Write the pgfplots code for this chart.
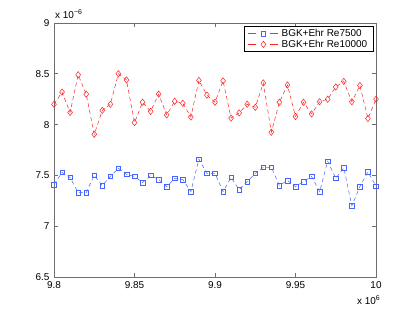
\documentclass[border=0pt]{standalone}
\usepackage{pgfplots}
\pgfplotsset{compat=1.18}
\usepackage{fontspec}
\setmainfont{Liberation Sans}
\definecolor{mblue}{RGB}{70,100,255}
\definecolor{mred}{RGB}{255,30,30}
\definecolor{axgray}{RGB}{110,110,110}

\pgfplotstableread{
x y
9.800 8.20
9.805 8.32
9.810 8.12
9.815 8.49
9.820 8.30
9.825 7.905
9.830 8.14
9.835 8.20
9.840 8.50
9.845 8.44
9.850 8.02
9.855 8.22
9.860 8.13
9.865 8.30
9.870 8.095
9.875 8.23
9.880 8.21
9.885 8.075
9.890 8.435
9.895 8.29
9.900 8.22
9.905 8.43
9.910 8.065
9.915 8.115
9.920 8.20
9.925 8.17
9.930 8.41
9.935 7.925
9.940 8.22
9.945 8.39
9.950 8.08
9.955 8.22
9.960 8.105
9.965 8.225
9.970 8.25
9.975 8.37
9.980 8.425
9.985 8.225
9.990 8.385
9.995 8.06
10.000 8.25
}\redtab

\pgfplotstableread{
x y
9.800 7.41
9.805 7.53
9.810 7.48
9.815 7.33
9.820 7.33
9.825 7.50
9.830 7.40
9.835 7.49
9.840 7.57
9.845 7.51
9.850 7.49
9.855 7.43
9.860 7.50
9.865 7.46
9.870 7.39
9.875 7.47
9.880 7.46
9.885 7.34
9.890 7.66
9.895 7.52
9.900 7.52
9.905 7.34
9.910 7.48
9.915 7.36
9.920 7.44
9.925 7.52
9.930 7.58
9.935 7.58
9.940 7.40
9.945 7.45
9.950 7.39
9.955 7.44
9.960 7.49
9.965 7.34
9.970 7.64
9.975 7.47
9.980 7.575
9.985 7.20
9.990 7.39
9.995 7.535
10.000 7.395
}\bluetab

\begin{document}
\fontsize{10}{12}\selectfont
\begin{tikzpicture}
\begin{axis}[
  name=ax,
  scale only axis,
  width=322bp, height=254bp,
  xmin=9.8, xmax=10, ymin=6.5, ymax=9,
  xtick={9.8,9.85,9.9,9.95,10},
  ytick={6.5,7,7.5,8,8.5,9},
  xticklabels={9.8,9.85,9.9,9.95,10},
  yticklabels={6.5,7,7.5,8,8.5,9},
  tick align=inside,
  major tick length=4bp,
  axis line style={axgray, line width=0.9bp},
  every tick/.style={axgray, line width=0.6bp},
  tick label style={font=\fontsize{10}{12}\selectfont, text=black},
  xticklabel style={yshift=-1.5bp},
  yticklabel style={xshift=-1bp},
  legend style={at={(1,1)}, anchor=north east, xshift=-3bp, yshift=-3bp,
    draw=black, line width=0.5bp, fill=white, font=\fontsize{10}{12}\selectfont,
    inner xsep=4bp, inner ysep=1.5bp, row sep=-1bp, column sep=1.5bp,
    nodes={inner sep=1.5bp}},
  legend cell align=left,
  legend image code/.code={%
    \draw[dash pattern=on 8bp off 14bp, mark repeat=2, mark phase=2]
      plot coordinates {(0bp,0bp) (15bp,0bp) (30bp,0bp)};},
]
\addplot[mblue, line width=0.5bp, dash pattern=on 4bp off 3bp, mark=square, mark size=2.3bp, mark options={solid, line width=0.5bp}] table {\bluetab};
\addlegendentry{BGK+Ehr Re7500}
\addplot[mred, line width=0.5bp, dash pattern=on 4bp off 3bp, mark=diamond, mark size=3.2bp, mark options={solid, line width=0.5bp}] table {\redtab};
\addlegendentry{BGK+Ehr Re10000}
\end{axis}
\node[anchor=south west, inner sep=0pt, font=\fontsize{10}{12}\selectfont] at ([xshift=1bp,yshift=4bp]ax.north west) {x 10\raisebox{4bp}{\fontsize{7}{8}\selectfont −6}};
\node[anchor=north east, inner sep=0pt, font=\fontsize{10}{12}\selectfont] at ([xshift=4bp,yshift=-18bp]ax.south east) {x 10\raisebox{4bp}{\fontsize{7}{8}\selectfont 6}};
\pgfresetboundingbox
\path ([xshift=-54bp,yshift=-36bp]ax.south west) rectangle ([xshift=39bp,yshift=23bp]ax.north east);
\end{tikzpicture}
\end{document}
